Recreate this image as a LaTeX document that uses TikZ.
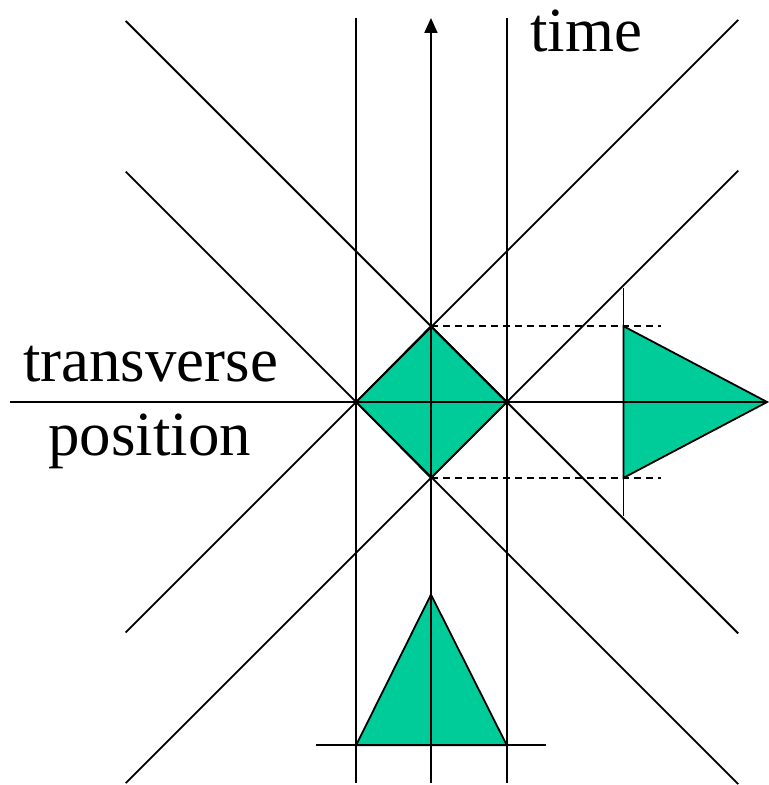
\documentclass[tikz,border=0pt]{standalone}
\usepackage{fontspec}
\setmainfont{Liberation Serif}
\usetikzlibrary{arrows.meta}
\definecolor{coneGreen}{HTML}{00CC99}

\begin{document}
\begin{tikzpicture}[x=1pt,y=-1pt,>={Triangle[length=15pt,width=13pt]},line join=miter]
\path[fill=white] (0,0) rectangle (769,785);
\tikzset{ln/.style={draw=black,line width=1.8pt},dashln/.style={draw=black,line width=1.8pt,dash pattern=on 7pt off 5pt},cone/.style={fill=coneGreen,draw=black,line width=1.8pt},big/.style={font=\fontsize{63}{70}\selectfont,text=black}}
% diamond corners
\coordinate (top) at (432,327); \coordinate (bot) at (432,479);
\coordinate (lft) at (357,403); \coordinate (rgt) at (508,403);
% filled shapes
\path[cone] (lft) -- (top) -- (rgt) -- (bot) -- cycle;
\path[cone] (625,327) -- (769,403) -- (625,479) -- cycle;
\path[cone] (357,747) -- (432,596) -- (508,747) -- cycle;
% axes and verticals
\draw[ln] (10,403) -- (769,403);
\draw[ln,->] (432,785) -- (432,18);
\draw[ln] (357,18) -- (357,785); \draw[ln] (508,18) -- (508,785);
% light cone diagonals
\draw[ln] (126,21) -- (740,635); \draw[ln] (126,172) -- (740,786);
\draw[ln] (126,634) -- (740,20); \draw[ln] (126,785) -- (740,171);
% projections
\draw[dashln] (top) -- (663,327); \draw[dashln] (bot) -- (663,479);
\draw[ln] (625,289) -- (625,517);
\draw[ln] (317,747) -- (547,747);
\node[big,anchor=base west] (timelbl) at (528,52) {time};
\node[big,anchor=base] (translbl) at (151,382) {transverse};
\node[big,anchor=base] (poslbl) at (150,457) {position};
\end{tikzpicture}
\end{document}
